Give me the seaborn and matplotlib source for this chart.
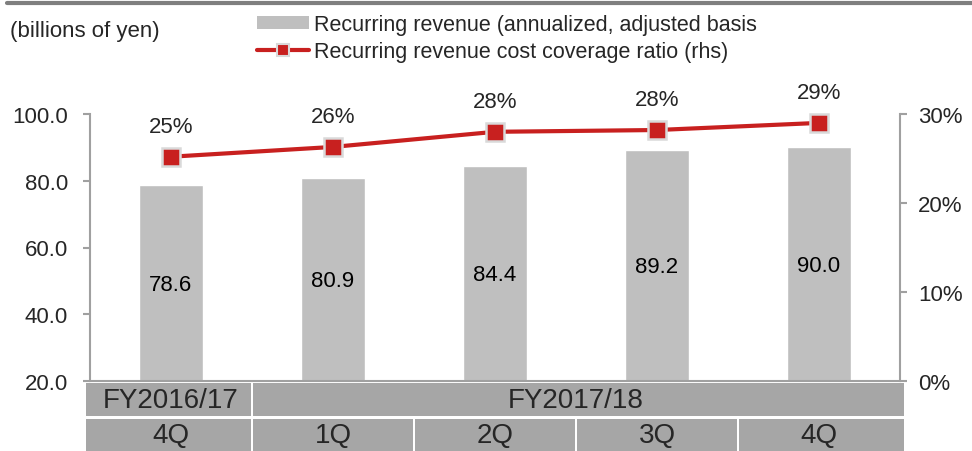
import numpy as np
import matplotlib
matplotlib.use("Agg")
import matplotlib.pyplot as plt
import seaborn as sns
from matplotlib.patches import Patch, Rectangle
from matplotlib.lines import Line2D
import matplotlib.transforms as mtransforms

# ============================
# DATA
# ============================
quarters = ["4Q", "1Q", "2Q", "3Q", "4Q"]
fiscal_years = ["FY2016/17", "FY2017/18"]
fy_span = [1, 4]  # number of quarters under each fiscal year
revenue = [78.6, 80.9, 84.4, 89.2, 90.0]  # billions of yen
coverage = [25.2, 26.3, 28.0, 28.2, 29.0]  # %
coverage_labels = ["25%", "26%", "28%", "28%", "29%"]

BAR_COLOR = "#bfbfbf"
LINE_COLOR = "#c8201f"
CELL_COLOR = "#a6a6a6"
SPINE_COLOR = "#a0a0a0"

sns.set_theme(style="white")
plt.rcParams["font.family"] = ["Liberation Sans", "DejaVu Sans"]
FS = 16

fig = plt.figure(figsize=(9.72, 4.52), dpi=100)
ax = fig.add_axes([90 / 972, 1 - 382 / 452, 810 / 972, 267 / 452])
pos = np.arange(len(revenue))

# ============================
# BARS (left axis)
# ============================
sns.barplot(x=pos, y=revenue, color=BAR_COLOR, width=0.4, saturation=1,
            ax=ax, native_scale=True)
ax.set_xlim(-0.5, len(revenue) - 0.5)
ax.set_ylim(20, 100)
ax.set_yticks([20, 40, 60, 80, 100])
ax.set_yticklabels([f"{v:.1f}" for v in [20, 40, 60, 80, 100]], fontsize=FS)
ax.set_xticks([])
ax.set_xlabel("")
ax.set_ylabel("")
for i, v in enumerate(revenue):
    ax.text(i, (20 + v) / 2 - 0.4, f"{v:.1f}", ha="center", va="center", fontsize=FS, color="black")

# ============================
# LINE (right axis)
# ============================
ax2 = ax.twinx()
sns.lineplot(x=pos, y=coverage, ax=ax2, color=LINE_COLOR, linewidth=3, marker="s",
             markersize=13, markeredgecolor="#d9d9d9", markeredgewidth=1.8, clip_on=False)
ax2.set_ylim(0, 30)
ax2.set_yticks([0, 10, 20, 30])
ax2.set_yticklabels([f"{v}%" for v in [0, 10, 20, 30]], fontsize=FS)
for i, (v, lab) in enumerate(zip(coverage, coverage_labels)):
    ax2.annotate(lab, (i, v), xytext=(0, 22), textcoords="offset points",
                 ha="center", va="center", fontsize=FS)

for a in (ax, ax2):
    for s in a.spines.values():
        s.set_visible(False)
    a.tick_params(axis="y", length=5, width=1.5, color=SPINE_COLOR, direction="out")
ax.tick_params(axis="y", pad=11)
ax2.tick_params(axis="y", pad=8)
for a, side in ((ax, "left"), (ax2, "right"), (ax, "bottom")):
    a.spines[side].set_visible(True)
    a.spines[side].set_color(SPINE_COLOR)
    a.spines[side].set_linewidth(1.5)

# ============================
# CATEGORY TABLE below the axis
# ============================
trans = mtransforms.blended_transform_factory(ax.transData, ax.transAxes)
gap = 0.009
ext = 0.025  # outer cells reach a little past the spines
rows = [(-0.008, -0.131), (-0.142, -0.262)]
n_q = len(quarters)


def cell(x0, x1, top, bot, text):
    l = x0 + gap if x0 > -0.5 else x0 - ext
    r = x1 - gap if x1 < n_q - 0.5 else x1 + ext
    ax.add_patch(Rectangle((l, bot), r - l, top - bot, transform=trans,
                           facecolor=CELL_COLOR, edgecolor="none", clip_on=False))
    ax.text((x0 + x1) / 2, (top + bot) / 2, text, transform=trans, ha="center", va="center",
            fontsize=20)


start = 0
for fy, n in zip(fiscal_years, fy_span):
    cell(start - 0.5, start + n - 0.5, *rows[0], fy)
    start += n
for i, q in enumerate(quarters):
    cell(i - 0.5, i + 0.5, *rows[1], q)

# ============================
# LEGEND, UNIT LABEL, TOP RULE
# ============================
handles = [Patch(facecolor=BAR_COLOR, edgecolor="none"),
           Line2D([], [], color=LINE_COLOR, lw=3, marker="s", markersize=9,
                  markeredgecolor="#d9d9d9", markeredgewidth=1.5)]
labels = ["Recurring revenue (annualized, adjusted basis",
          "Recurring revenue cost coverage ratio (rhs)"]
fig.legend(handles, labels, loc="upper left", bbox_to_anchor=(257 / 972, 1 - 15 / 452),
           frameon=False, fontsize=15.5, handlelength=2.4, handleheight=0.55,
           handletextpad=0.23, labelspacing=0.3, borderpad=0, borderaxespad=0)
fig.text(10 / 972, 1 - 32 / 452, "(billions of yen)", ha="left", va="center", fontsize=16)

fig.add_artist(Line2D([7 / 972, 1], [1 - 4 / 452, 1 - 4 / 452], color="#7f7f7f", lw=3))

fig.savefig("out.png", dpi=100)
